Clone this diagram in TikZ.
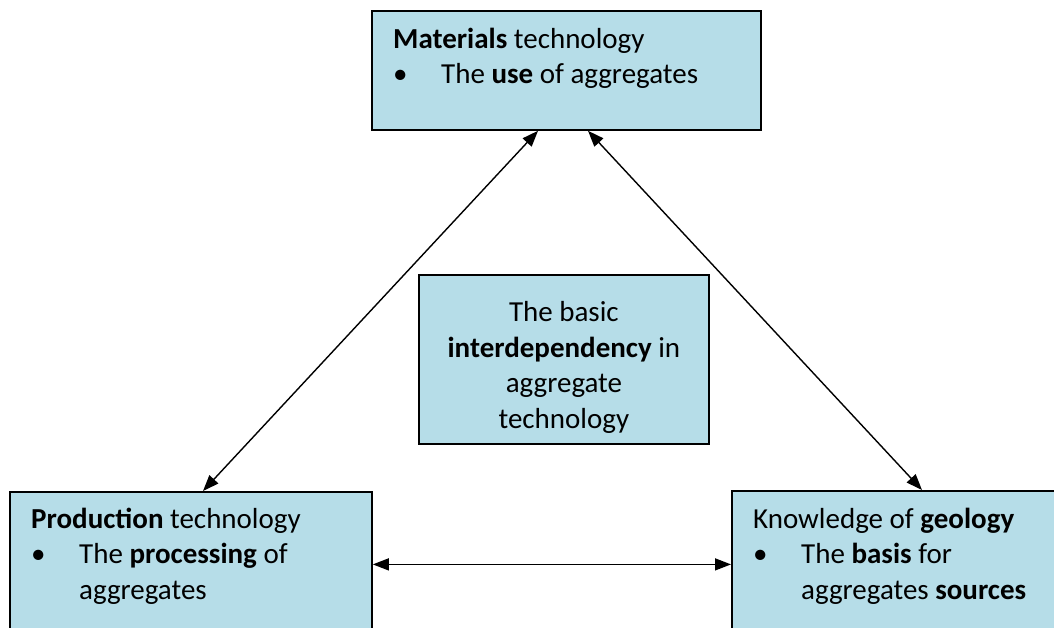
\documentclass[tikz,border=0pt]{standalone}
\usepackage{fontspec}
\setmainfont{Carlito}
\usetikzlibrary{arrows.meta}
\definecolor{boxblue}{RGB}{182,221,232}
\newcommand{\blt}{\makebox[48pt][l]{\textbullet}}
\begin{document}
\begin{tikzpicture}[
            x=1pt, y=-1pt,
            box/.style={draw, line width=1.8pt, fill=boxblue, inner sep=0pt, anchor=north west},
            txt/.style={anchor=base west, inner sep=0pt, align=left, font=\fontsize{29}{35.4}\selectfont},
            link/.style={{Triangle[length=16pt,width=12pt]}-{Triangle[length=16pt,width=12pt]}, line width=1.4pt}
        ]
        \clip (0,0) rectangle (1054,628);
        \node[box, minimum width=389pt, minimum height=119pt] (mat) at (371,10) {};
        \node[box, minimum width=290pt, minimum height=169pt] (core) at (418,274) {};
        \node[box, minimum width=362pt, minimum height=145pt] (prod) at (9,491) {};
        \node[box, minimum width=340pt, minimum height=146pt] (geo) at (731,490) {};

        % base anchor sits on the last line
        \node[txt] (mattxt) at ([shift={(22,73.5)}]mat.north west)
            {\textbf{Materials} technology\\ \blt The \textbf{use} of aggregates};
        \node[txt] (prodtxt) at ([shift={(22,108)}]prod.north west)
            {\textbf{Production} technology\\ \blt The \textbf{processing} of\\ \hspace*{48pt}aggregates};
        \node[txt] (geotxt) at ([shift={(22,109)}]geo.north west)
            {Knowledge of \textbf{geology}\\ \blt The \textbf{basis} for\\ \hspace*{48pt}aggregates \textbf{sources}};
        \node[txt, anchor=center, align=center] (coretxt) at ([yshift=-8pt]core.center)
            {The basic\\ \textbf{interdependency} in\\ aggregate\\ technology};

        \draw[link] ([xshift=167pt]mat.south west) -- ([xshift=194pt]prod.north west);
        \draw[link] ([xshift=217pt]mat.south west) -- ([xshift=191pt]geo.north west);
        \draw[link] (prod.east) -- (prod.east -| geo.west);
\end{tikzpicture}
\end{document}
